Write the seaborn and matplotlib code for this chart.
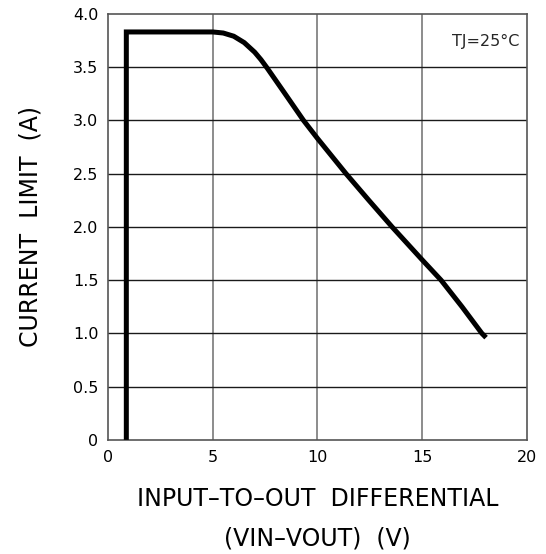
import pandas as pd
import matplotlib.pyplot as plt
import seaborn as sns

sns.set_theme(style="white")
plt.rcParams['font.family'] = ['DejaVu Sans']

# curve
vdiff = [0.87, 0.87, 5.0, 5.5, 6.0, 6.5, 7.0, 7.3, 7.6, 8.45, 9.33, 10.0,
         11.36, 12.45, 13.56, 15.0, 15.9, 16.9, 17.85, 18.05]
ilim = [0.0, 3.83, 3.83, 3.82, 3.79, 3.73, 3.64, 3.57, 3.49, 3.25, 3.0, 2.83,
        2.5, 2.25, 2.0, 1.69, 1.5, 1.25, 1.0, 0.96]
xticks = [0, 5, 10, 15, 20]
yticks = [0, 0.5, 1.0, 1.5, 2.0, 2.5, 3.0, 3.5, 4.0]
ylabels = ["0", "0.5", "1.0", "1.5", "2.0", "2.5", "3.0", "3.5", "4.0"]

df = pd.DataFrame({"vdiff": vdiff, "ilim": ilim})

fig = plt.figure(figsize=(5.46, 5.54), dpi=100)
ax = fig.add_axes([0.198, 0.206, 0.767, 0.769])

# grid
for x in xticks[1:-1]:
    ax.axvline(x, color="#6e6e6e", lw=1.1, zorder=1)
for y in yticks[1:-1]:
    ax.axhline(y, color="#1a1a1a", lw=1.0, zorder=1)

sns.lineplot(data=df, x="vdiff", y="ilim", sort=False, estimator=None,
             color="black", lw=3.6, ax=ax, zorder=3)
ax.lines[-1].set_solid_joinstyle("miter")
ax.lines[-1].set_solid_capstyle("butt")

ax.set_xlim(0, 20)
ax.set_ylim(0, 4)
ax.set_xticks(xticks)
ax.set_xticklabels([str(t) for t in xticks])
ax.set_yticks(yticks)
ax.set_yticklabels(ylabels)
ax.tick_params(axis="both", length=0, labelsize=11.5, pad=7, colors="black")

for s in ax.spines.values():
    s.set_color("#555555")
    s.set_linewidth(1.2)

ax.set_xlabel("INPUT\u2013TO\u2013OUT  DIFFERENTIAL\n(VIN\u2013VOUT)  (V)",
              fontsize=17, labelpad=16, linespacing=1.8, color="black")
ax.set_ylabel("CURRENT  LIMIT  (A)", fontsize=17, labelpad=22, color="black")

ax.text(19.65, 3.74, "TJ=25\u00b0C", ha="right", va="center", fontsize=11.5)

plt.savefig("out.png", dpi=100)
